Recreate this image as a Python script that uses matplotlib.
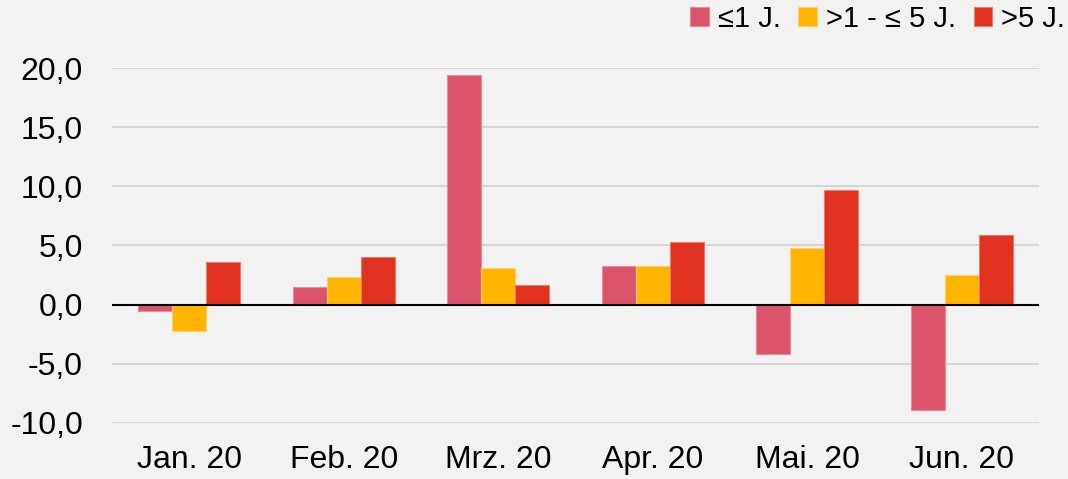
import numpy as np
import matplotlib.pyplot as plt

# Daten
monate = ['Jan. 20', 'Feb. 20', 'Mrz. 20', 'Apr. 20', 'Mai. 20', 'Jun. 20']
serien = ['≤1 J.', '>1 - ≤ 5 J.', '>5 J.']
bis1 = [-0.5, 1.5, 19.4, 3.3, -4.2, -8.9]
bis5 = [-2.2, 2.3, 3.1, 3.3, 4.8, 2.5]
ueber5 = [3.6, 4.0, 1.7, 5.3, 9.7, 5.9]
farben = ['#DC546C', '#FFB400', '#E0321E']
kanten = ['#E98A9B', '#FFD070', '#EC7A6C']

plt.rcParams['font.family'] = ['Liberation Sans', 'DejaVu Sans']
bg = '#F2F2F2'

fig = plt.figure(figsize=(10.68, 4.79), dpi=100, facecolor=bg)
ax = fig.add_axes([0.105, 0.117, 0.868, 0.741], facecolor=bg)

x = np.arange(len(monate))
w = 0.22
for i, (werte, name) in enumerate(zip([bis1, bis5, ueber5], serien)):
    ax.bar(x + (i - 1) * w, werte, w, color=farben[i], edgecolor=kanten[i],
           linewidth=0.8, label=name, zorder=3)

ax.set_xlim(-0.5, len(monate) - 0.5)
ax.set_ylim(-10, 20)
ax.set_yticks(np.arange(-10, 21, 5))
ax.set_yticklabels([f'{v:.1f}'.replace('.', ',') for v in np.arange(-10, 21, 5)])
ax.set_xticks(x)
ax.set_xticklabels(monate)
ax.tick_params(axis='both', length=0, labelsize=23, colors='black')
ax.tick_params(axis='y', pad=21)
ax.tick_params(axis='x', pad=16)
ax.grid(axis='y', color='#D0D0D0', linewidth=1.2, zorder=0)
ax.axhline(0, color='black', linewidth=1.5, zorder=4)
for s in ax.spines.values():
    s.set_visible(False)

ax.legend(loc='lower right', bbox_to_anchor=(1.028, 1.099), ncol=3, frameon=False,
          fontsize=21, handlelength=0.65, handleheight=0.65, handletextpad=0.3,
          columnspacing=0.6, borderaxespad=0, borderpad=0)

fig.savefig('out.png', dpi=100, facecolor=bg)
